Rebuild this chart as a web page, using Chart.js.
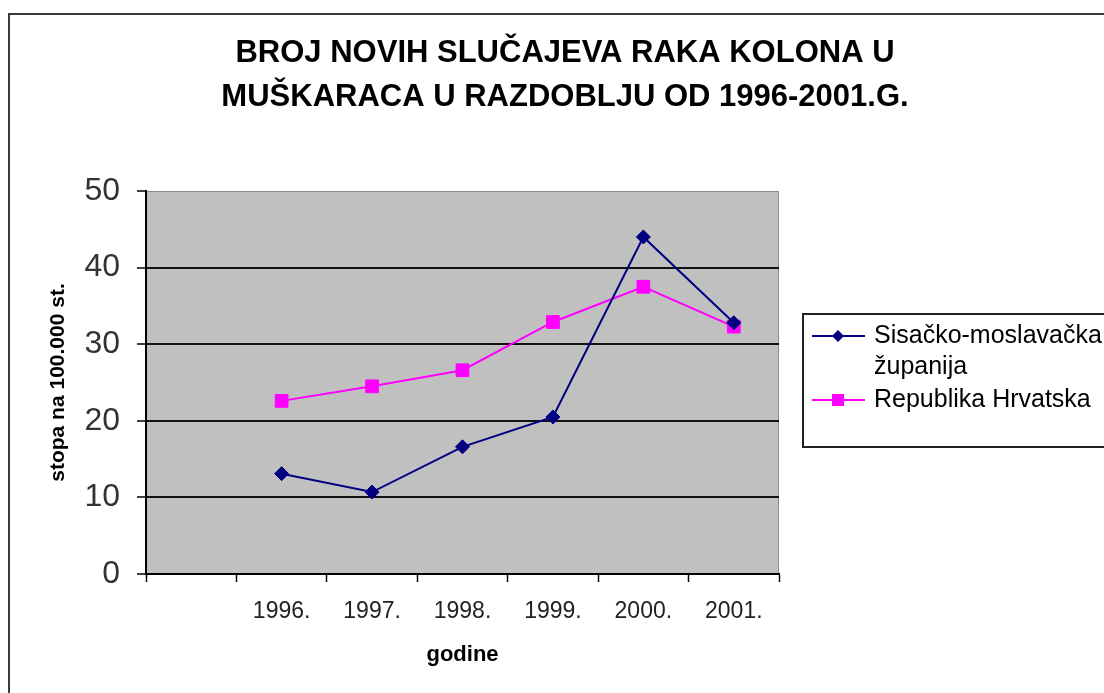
<!DOCTYPE html>
<html>
<head>
<meta charset="utf-8">
<title>Broj novih slučajeva raka kolona</title>
<script src="https://cdn.jsdelivr.net/npm/chart.js@4.4.1/dist/chart.umd.min.js"></script>
<style>
    html, body { margin: 0; padding: 0; background: #fff; overflow: hidden; }
    #okvir { position: relative; width: 1104px; height: 693px; overflow: hidden; }
    #okvir::before {
        content: '';
        position: absolute;
        left: 8px; top: 13px; right: -10px; bottom: -10px;
        border-left: 2px solid #3a3a3a;
        border-top: 2px solid #3a3a3a;
    }
    canvas { position: absolute; left: 0; top: 0; }
</style>
</head>
<body>
<div id="okvir"><canvas id="grafikon" width="1104" height="693"></canvas></div>
<script>
// ===== PODACI =====
const godine = ['', '1996.', '1997.', '1998.', '1999.', '2000.', '2001.'];
const sisackoMoslavacka = [null, 13.1, 10.7, 16.6, 20.5, 44.0, 32.8];
const republikaHrvatska = [null, 22.6, 24.5, 26.6, 32.9, 37.5, 32.3];
const nazivSerija = ['Sisačko-moslavačka županija', 'Republika Hrvatska'];
const naslov = ['BROJ NOVIH SLUČAJEVA RAKA KOLONA U', 'MUŠKARACA U RAZDOBLJU OD 1996-2001.G.'];
const naslovX = 'godine';
const naslovY = 'stopa na 100.000 st.';

const FONT = "'Liberation Sans', Arial, sans-serif";
Chart.defaults.font.family = FONT;

// ===== POZADINA PODRUČJA GRAFA =====
const pozadina = {
    id: 'pozadina',
    beforeDraw(chart) {
        const { ctx, chartArea: a } = chart;
        ctx.save();
        ctx.fillStyle = '#c0c0c0';
        ctx.fillRect(a.left, a.top, a.right - a.left, a.bottom - a.top);
        ctx.strokeStyle = '#8c8c8c';
        ctx.lineWidth = 1;
        ctx.beginPath();
        ctx.moveTo(a.left, a.top + 0.5);
        ctx.lineTo(a.right - 0.5, a.top + 0.5);
        ctx.lineTo(a.right - 0.5, a.bottom);
        ctx.stroke();
        ctx.restore();
    }
};

// ===== NASLOVI =====
const tekstovi = {
    id: 'tekstovi',
    afterDraw(chart) {
        const { ctx, chartArea: a } = chart;
        ctx.save();
        ctx.fillStyle = '#000';
        ctx.textAlign = 'center';
        ctx.textBaseline = 'middle';

        ctx.font = 'bold 31px ' + FONT;
        naslov.forEach((red, i) => ctx.fillText(red, 565, 53 + i * 44));

        ctx.font = 'bold 22px ' + FONT;
        ctx.fillText(naslovX, (a.left + a.right) / 2, 655);

        ctx.translate(58, (a.top + a.bottom) / 2);
        ctx.rotate(-Math.PI / 2);
        ctx.font = 'bold 21px ' + FONT;
        ctx.fillText(naslovY, 0, 0);
        ctx.restore();
    }
};

// ===== LEGENDA =====
function prelomi(ctx, tekst, maxSirina) {
    const rijeci = tekst.split(' ');
    const redovi = [];
    let red = '';
    rijeci.forEach(r => {
        const probni = red ? red + ' ' + r : r;
        if (red && ctx.measureText(probni).width > maxSirina) {
            redovi.push(red);
            red = r;
        } else {
            red = probni;
        }
    });
    if (red) redovi.push(red);
    return redovi;
}

const legenda = {
    id: 'legenda',
    afterDraw(chart) {
        const { ctx } = chart;
        const box = { x: 803, y: 314, w: 400, h: 133 };
        ctx.save();
        ctx.strokeStyle = '#222';
        ctx.lineWidth = 2;
        ctx.strokeRect(box.x, box.y, box.w, box.h);

        ctx.font = '25px ' + FONT;
        ctx.textAlign = 'left';
        ctx.textBaseline = 'middle';
        let y = 336;
        chart.data.datasets.forEach(ds => {
            const boja = ds.borderColor;
            ctx.strokeStyle = boja;
            ctx.fillStyle = boja;
            ctx.lineWidth = 2;
            ctx.beginPath();
            ctx.moveTo(812, y);
            ctx.lineTo(865, y);
            ctx.stroke();
            ctx.beginPath();
            if (ds.pointStyle === 'rectRot') {
                ctx.moveTo(838, y - 6);
                ctx.lineTo(844, y);
                ctx.lineTo(838, y + 6);
                ctx.lineTo(832, y);
                ctx.closePath();
            } else {
                ctx.rect(832, y - 6, 12, 12);
            }
            ctx.fill();

            ctx.fillStyle = '#000';
            const redovi = prelomi(ctx, ds.label, 1104 - 874);
            redovi.forEach((r, i) => ctx.fillText(r, 874, y + i * 31));
            y += redovi.length * 31 + 2;
        });
        ctx.restore();
    }
};

// ===== GRAFIKON =====
const ctx = document.getElementById('grafikon').getContext('2d');
new Chart(ctx, {
    type: 'line',
    data: {
        labels: godine,
        datasets: [
            {
                label: nazivSerija[0],
                data: sisackoMoslavacka,
                borderColor: '#000080',
                backgroundColor: '#000080',
                borderWidth: 2,
                pointStyle: 'rectRot',
                pointRadius: 7,
                pointHoverRadius: 7,
                pointBorderWidth: 1,
                tension: 0
            },
            {
                label: nazivSerija[1],
                data: republikaHrvatska,
                borderColor: '#ff00ff',
                backgroundColor: '#ff00ff',
                borderWidth: 2,
                pointStyle: 'rect',
                pointRadius: 9,
                pointHoverRadius: 9,
                pointBorderWidth: 1,
                tension: 0
            }
        ]
    },
    options: {
        responsive: false,
        animation: false,
        layout: {
            padding: { left: 0, top: 191, right: 1104 - 779, bottom: 0 }
        },
        plugins: {
            legend: { display: false },
            title: { display: false },
            tooltip: { enabled: false }
        },
        scales: {
            x: {
                offset: true,
                afterFit: s => { s.height = 119; },
                border: { display: true, color: '#000', width: 2 },
                grid: {
                    offset: true,
                    drawOnChartArea: false,
                    drawTicks: true,
                    tickLength: 8,
                    tickColor: '#000',
                    tickWidth: 1.5
                },
                ticks: {
                    font: { size: 23 },
                    color: '#222',
                    padding: 16,
                    maxRotation: 0,
                    autoSkip: false
                }
            },
            y: {
                min: 0,
                max: 50,
                afterFit: s => { s.width = 146; },
                border: { display: true, color: '#000', width: 2 },
                grid: {
                    color: c => (c.tick && c.tick.value === 50) ? 'rgba(0,0,0,0)' : '#111',
                    lineWidth: 2,
                    tickLength: 9,
                    tickColor: '#000',
                    tickWidth: 1.5
                },
                ticks: {
                    stepSize: 10,
                    font: { size: 32 },
                    color: '#333',
                    padding: 17
                }
            }
        }
    },
    plugins: [pozadina, tekstovi, legenda]
});
</script>
</body>
</html>
